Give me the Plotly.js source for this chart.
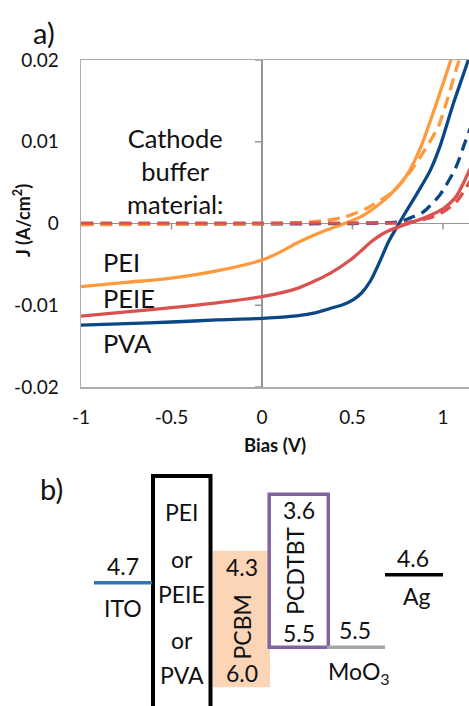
<!DOCTYPE html>
<html>
<head>
<meta charset="utf-8">
<script src="https://cdn.plot.ly/plotly-3.0.1.min.js"></script>
<style>
  html, body { margin: 0; padding: 0; background: #fff; }
  #chart { width: 469px; height: 706px; }
</style>
</head>
<body>
<div id="chart"></div>
<script>
// ---------- (a) J–V curves: bias (V) vs current density (A/cm²) ----------
// PVA buffer, illuminated / dark
const pvaLightV = [-1, -0.75, -0.5, -0.25, 0, 0.19, 0.3, 0.376, 0.45, 0.505, 0.55, 0.6, 0.65, 0.70, 0.757, 0.80, 0.855, 0.93, 0.983, 1.055, 1.14, 1.17];
const pvaLightJ = [-0.01242, -0.01225, -0.01205, -0.0118, -0.0116, -0.0113, -0.0109, -0.0104, -0.0099, -0.0093, -0.0085, -0.0070, -0.0047, -0.0022, 0.0, 0.0016, 0.0036, 0.0065, 0.0094, 0.0145, 0.0200, 0.0222];
const pvaDarkV = [-1, 0, 0.5, 0.7, 0.76, 0.81, 0.89, 0.983, 1.07, 1.12, 1.15];
const pvaDarkJ = [-0.0001, -0.00005, 0, 0.0001, 0.0002, 0.0006, 0.0014, 0.0035, 0.0068, 0.0098, 0.0116];

// PEIE buffer, illuminated / dark
const peieLightV = [-1, -0.75, -0.5, -0.25, 0, 0.2, 0.376, 0.486, 0.55, 0.6, 0.65, 0.70, 0.78, 0.85, 0.93, 1.0, 1.04, 1.076, 1.11, 1.15];
const peieLightJ = [-0.01132, -0.0108, -0.0103, -0.0097, -0.00895, -0.0079, -0.0061, -0.0045, -0.0033, -0.0023, -0.0015, -0.0009, -0.0002, 0.0003, 0.0010, 0.0018, 0.0025, 0.0034, 0.0048, 0.0067];
const peieDarkV = [-1, 0, 0.5, 0.8, 0.85, 0.93, 1.0, 1.076, 1.15];
const peieDarkJ = [0.00005, 0.00005, 0.00005, 0.0001, 0.0003, 0.0007, 0.0014, 0.0027, 0.0052];

// PEI buffer, illuminated / dark
const peiLightV = [-1, -0.75, -0.5, -0.25, 0, 0.1, 0.19, 0.28, 0.357, 0.43, 0.504, 0.56, 0.615, 0.707, 0.80, 0.882, 0.961, 1.044, 1.09];
const peiLightJ = [-0.00773, -0.0072, -0.00667, -0.0058, -0.00447, -0.0035, -0.00242, -0.0015, -0.0008, -0.0002, 0.0004, 0.0010, 0.0018, 0.0035, 0.0059, 0.0096, 0.0145, 0.0200, 0.0230];
const peiDarkV = [-1, -0.5, 0, 0.2, 0.28, 0.36, 0.46, 0.583, 0.725, 0.818, 0.90, 0.975, 1.025, 1.07, 1.11];
const peiDarkJ = [-0.00015, -0.0001, -0.00005, 0.0001, 0.0002, 0.0004, 0.0008, 0.0019, 0.0039, 0.0063, 0.0090, 0.0119, 0.0152, 0.0186, 0.0214];

const biasTicks = [-1, -0.5, 0, 0.5, 1];
const biasTickText = ['-1', '-0.5', '0', '0.5', '1'];
const jTicks = [-0.02, -0.01, 0, 0.01, 0.02];
const jTickText = ['-0.02', '-0.01', '0', '0.01', '0.02'];

const bufferNames = ['PEI', 'PEIE', 'PVA'];

// ---------- (b) energy levels (eV below vacuum) ----------
const electrodeNames = ['ITO', 'MoO<sub>3</sub>', 'Ag'];
const electrodeLevels = [4.7, 5.5, 4.6];
const semiNames = ['PCBM', 'PCDTBT'];
const semiLumo = [4.3, 3.6];
const semiHomo = [6.0, 5.5];
const bufferStack = ['PEI', 'or', 'PEIE', 'or', 'PVA'];

// ---------- drawing ----------
const W = 469, H = 706;
const FONT = 'Lato, "Open Sans", sans-serif';
const INK = '#111111';
const COLORS = { PVA: '#0B4784', PEIE: '#DB5150', PEI: '#FF9A3C' };

function curve(v, j, color, dashed) {
  return {
    x: v, y: j, type: 'scatter', mode: 'lines', xaxis: 'x', yaxis: 'y',
    line: { color: color, width: 3.3, shape: 'spline', smoothing: 0.7, dash: dashed ? '12px,7px' : 'solid' },
    hoverinfo: 'skip'
  };
}

const traces = [
  curve(pvaLightV, pvaLightJ, COLORS.PVA, false),
  curve(pvaDarkV, pvaDarkJ, COLORS.PVA, true),
  curve(peieLightV, peieLightJ, COLORS.PEIE, false),
  curve(peiLightV, peiLightJ, COLORS.PEI, false),
  curve(peiDarkV, peiDarkJ, COLORS.PEI, true),
  curve(peieDarkV, peieDarkJ, COLORS.PEIE, true)
];

const px2paper = p => 1 - p / H;
const AXIS_GREY = '#969696';
const FRAME_GREY = '#ADADAD';

const shapes = [];
// tick marks sitting on the zero lines (axes cross at the origin)
biasTicks.filter(t => t !== 0 && t !== -1).forEach(t => shapes.push({
  type: 'line', xref: 'x', yref: 'y', x0: t, x1: t,
  ysizemode: 'pixel', yanchor: 0, y0: 0, y1: -6,
  line: { color: AXIS_GREY, width: 1.5 }, layer: 'below'
}));
jTicks.filter(t => t !== 0).forEach(t => shapes.push({
  type: 'line', xref: 'x', yref: 'y', y0: t, y1: t,
  xsizemode: 'pixel', xanchor: 0, x0: -7, x1: 0,
  line: { color: AXIS_GREY, width: 1.5 }, layer: 'below'
}));

// column extents of the device stack, in x2 units
const COL = {
  ITO: [94, 152], buffer: [153, 210.5], PCBM: [213, 270],
  PCDTBT: [269.2, 328.3], 'MoO<sub>3</sub>': [327, 385], Ag: [385, 443]
};
const electrodeColors = { 'ITO': '#2E75B6', 'MoO<sub>3</sub>': '#A5A5A5', 'Ag': '#000000' };

// buffer layer box (open at the bottom of the page)
shapes.push({
  type: 'rect', xref: 'x2', yref: 'paper',
  x0: COL.buffer[0], x1: COL.buffer[1], y0: px2paper(476), y1: -0.03,
  line: { color: '#000', width: 4 }, fillcolor: 'rgba(0,0,0,0)'
});
// PCBM filled band
shapes.push({
  type: 'rect', xref: 'x2', yref: 'y2',
  x0: COL.PCBM[0], x1: COL.PCBM[1], y0: semiLumo[0], y1: semiHomo[0],
  line: { width: 0 }, fillcolor: '#FBD5B5', layer: 'below'
});
// PCDTBT outlined band
shapes.push({
  type: 'rect', xref: 'x2', yref: 'y2',
  x0: COL.PCDTBT[0], x1: COL.PCDTBT[1], y0: semiLumo[1], y1: semiHomo[1],
  line: { color: '#8064A2', width: 3.5 }, fillcolor: 'rgba(0,0,0,0)'
});
// electrode work functions
electrodeNames.forEach((name, i) => shapes.push({
  type: 'line', xref: 'x2', yref: 'y2',
  x0: COL[name][0], x1: COL[name][1], y0: electrodeLevels[i], y1: electrodeLevels[i],
  line: { color: electrodeColors[name], width: 3.5 }
}));

const annotations = [];
function note(o) {
  annotations.push(Object.assign({
    showarrow: false, font: { family: FONT, size: 23, color: INK },
    xanchor: 'center', yanchor: 'middle'
  }, o));
}

// panel letters
note({ text: 'a)', xref: 'paper', yref: 'paper', x: 44 / W, y: px2paper(32), font: { family: FONT, size: 29, color: INK } });
note({ text: 'b)', xref: 'paper', yref: 'paper', x: 51 / W, y: px2paper(488), font: { family: FONT, size: 29, color: INK } });

// y-axis title
note({ text: '<b>J (A/cm<sup>2</sup>)</b>', xref: 'paper', yref: 'paper', x: 22 / W, y: px2paper(221),
  textangle: -90, font: { family: FONT, size: 18, color: INK } });

// curve labels in panel (a)
note({ text: 'Cathode<br>buffer<br>material:', xref: 'x', yref: 'y', x: -0.48, y: 0.0064,
  font: { family: FONT, size: 25.5, color: INK } });
const bufferLabelJ = [-0.00475, -0.00915, -0.01466];
bufferNames.forEach((n, i) => note({ text: n, xref: 'x', yref: 'y', x: -0.89, y: bufferLabelJ[i],
  xanchor: 'left', font: { family: FONT, size: 25.5, color: INK } }));

// panel (b) labels
const electrodeLabelX = { 'ITO': 123, 'MoO<sub>3</sub>': 359, 'Ag': 417 };
const electrodeValueX = { 'ITO': 123, 'MoO<sub>3</sub>': 355, 'Ag': 413 };
const electrodeLabelShift = { 'ITO': -25, 'MoO<sub>3</sub>': -25, 'Ag': -21 };
electrodeNames.forEach((name, i) => {
  note({ text: electrodeLevels[i].toFixed(1), xref: 'x2', yref: 'y2', x: electrodeValueX[name], y: electrodeLevels[i], yshift: 17 });
  note({ text: name, xref: 'x2', yref: 'y2', x: electrodeLabelX[name], y: electrodeLevels[i], yshift: electrodeLabelShift[name] });
});
const semiX = { PCBM: 241.5, PCDTBT: 299 };
semiNames.forEach((name, i) => {
  note({ text: semiLumo[i].toFixed(1), xref: 'x2', yref: 'y2', x: semiX[name], y: semiLumo[i], yshift: -16 });
  note({ text: semiHomo[i].toFixed(1), xref: 'x2', yref: 'y2', x: semiX[name], y: semiHomo[i], yshift: 14 });
  note({ text: name, xref: 'x2', yref: 'y2', x: semiX[name] - (name === 'PCDTBT' ? 4 : 0),
    y: (semiLumo[i] + semiHomo[i]) / 2, yshift: name === 'PCBM' ? -8 : 0, textangle: -90 });
});
const stackY = [512, 559, 594, 640, 675];
bufferStack.forEach((t, i) => note({ text: t, xref: 'x2', yref: 'paper', x: 181.7, y: px2paper(stackY[i]) }));

const layout = {
  width: W, height: H,
  margin: { l: 0, r: 0, t: 0, b: 0, pad: 0 },
  paper_bgcolor: '#fff', plot_bgcolor: '#fff',
  showlegend: false,
  font: { family: FONT, color: INK },
  xaxis: {
    domain: [81 / W, 1], range: [-1, 1.144], anchor: 'y',
    tickmode: 'array', tickvals: biasTicks, ticktext: biasTickText,
    showgrid: false, zeroline: true, zerolinecolor: AXIS_GREY, zerolinewidth: 1.5,
    showline: true, linecolor: FRAME_GREY, linewidth: 1.5, mirror: true,
    ticks: '', ticklabelstandoff: 13,
    tickfont: { family: FONT, size: 19, color: INK },
    title: { text: '<b>Bias (V)</b>', font: { family: FONT, size: 18.5, color: INK }, standoff: 12 },
    automargin: false, fixedrange: true
  },
  yaxis: {
    domain: [1 - 387 / H, 1 - 60 / H], range: [-0.02, 0.02], anchor: 'x',
    tickmode: 'array', tickvals: jTicks, ticktext: jTickText,
    showgrid: false, zeroline: true, zerolinecolor: AXIS_GREY, zerolinewidth: 1.5,
    showline: true, linecolor: FRAME_GREY, linewidth: 1.5, mirror: false,
    ticks: '', ticklabelstandoff: 17,
    tickfont: { family: FONT, size: 19, color: INK },
    automargin: false, fixedrange: true
  },
  xaxis2: { domain: [0, 1], range: [0, W], anchor: 'y2', visible: false, fixedrange: true },
  yaxis2: { domain: [0, 0.45], range: [6.232, 2.281], anchor: 'x2', visible: false, fixedrange: true },
  shapes: shapes,
  annotations: annotations
};

Plotly.newPlot('chart', traces, layout, { displayModeBar: false, staticPlot: true });
</script>
</body>
</html>
